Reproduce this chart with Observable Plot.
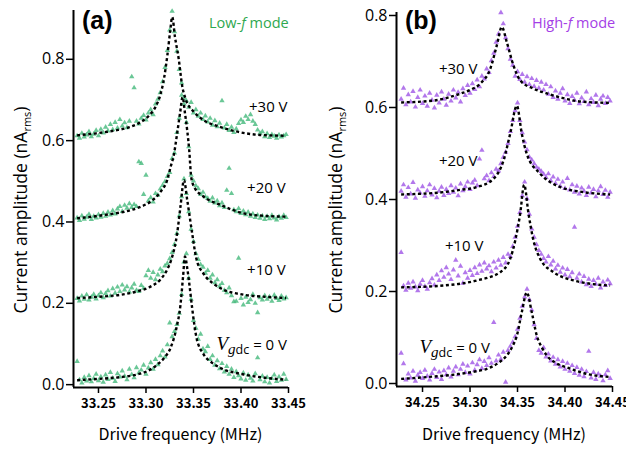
<!DOCTYPE html>
<html><head><meta charset="utf-8">
<script src="https://cdn.jsdelivr.net/npm/d3@7"></script>
<script src="https://cdn.jsdelivr.net/npm/@observablehq/plot@0.6"></script>
<style>
body{margin:0;background:#fff;}
#wrap{position:relative;width:626px;height:449px;overflow:hidden;background:#fff;}
#wrap svg{position:absolute;top:0;}
</style></head><body><div id="wrap"></div>
<script>
// ---------- data ----------
const yTicks = [0.0, 0.2, 0.4, 0.6, 0.8];
const xTicksA = [33.25, 33.30, 33.35, 33.40, 33.45];
const xTicksB = [34.25, 34.30, 34.35, 34.40, 34.45];

// drive-frequency sweep, panel (a) (MHz)
const freqA = [33.2275,33.2300,33.2325,33.2350,33.2375,33.2400,33.2425,33.2450,33.2475,33.2500,
33.2525,33.2550,33.2575,33.2600,33.2625,33.2650,33.2675,33.2700,33.2725,33.2750,
33.2775,33.2800,33.2825,33.2850,33.2875,33.2900,33.2925,33.2950,33.2975,33.3000,
33.3025,33.3050,33.3075,33.3100,33.3125,33.3150,33.3175,33.3200,33.3225,33.3250,
33.3275,33.3300,33.3325,33.3350,33.3375,33.3400,33.3425,33.3450,33.3475,33.3500,
33.3525,33.3550,33.3575,33.3600,33.3625,33.3650,33.3675,33.3700,33.3725,33.3750,
33.3775,33.3800,33.3825,33.3850,33.3875,33.3900,33.3925,33.3950,33.3975,33.4000,
33.4025,33.4050,33.4075,33.4100,33.4125,33.4150,33.4175,33.4200,33.4225,33.4250,
33.4275,33.4300,33.4325,33.4350,33.4375,33.4400,33.4425,33.4450,33.4475];

// drive-frequency sweep, panel (b) (MHz)
const freqB = [34.2275,34.2300,34.2325,34.2350,34.2375,34.2400,34.2425,34.2450,34.2475,34.2500,
34.2525,34.2550,34.2575,34.2600,34.2625,34.2650,34.2675,34.2700,34.2725,34.2750,
34.2775,34.2800,34.2825,34.2850,34.2875,34.2900,34.2925,34.2950,34.2975,34.3000,
34.3025,34.3050,34.3075,34.3100,34.3125,34.3150,34.3175,34.3200,34.3225,34.3250,
34.3275,34.3300,34.3325,34.3350,34.3375,34.3400,34.3425,34.3450,34.3475,34.3500,
34.3525,34.3550,34.3575,34.3600,34.3625,34.3650,34.3675,34.3700,34.3725,34.3750,
34.3775,34.3800,34.3825,34.3850,34.3875,34.3900,34.3925,34.3950,34.3975,34.4000,
34.4025,34.4050,34.4075,34.4100,34.4125,34.4150,34.4175,34.4200,34.4225,34.4250,
34.4275,34.4300,34.4325,34.4350,34.4375,34.4400,34.4425,34.4450,34.4475];

// measured amplitude (nA rms), low-f mode
const ampA30 = [0.612,0.606,0.618,0.609,0.614,0.622,0.610,0.616,0.625,0.612,
0.628,0.619,0.633,0.624,0.640,0.627,0.645,0.631,0.652,0.636,
0.644,0.632,0.648,0.757,0.730,0.648,0.641,0.655,0.662,0.651,
0.668,0.676,0.664,0.690,0.702,0.718,0.745,0.780,0.822,0.872,
0.918,0.868,0.820,0.775,0.742,0.705,0.698,0.682,0.694,0.668,
0.676,0.660,0.668,0.652,0.661,0.646,0.655,0.638,0.649,0.634,
0.643,0.698,0.631,0.640,0.625,0.633,0.620,0.629,0.642,0.651,
0.645,0.660,0.652,0.664,0.648,0.640,0.626,0.618,0.622,0.610,
0.617,0.608,0.615,0.611,0.606,0.614,0.609,0.612,0.615];
const ampA20 = [0.410,0.404,0.415,0.407,0.412,0.419,0.406,0.414,0.410,0.418,
0.412,0.421,0.414,0.424,0.417,0.428,0.420,0.432,0.438,0.426,
0.441,0.434,0.445,0.436,0.443,0.438,0.548,0.544,0.468,0.515,
0.452,0.460,0.449,0.470,0.466,0.481,0.490,0.499,0.512,0.522,
0.556,0.570,0.620,0.655,0.712,0.690,0.645,0.585,0.515,0.501,
0.489,0.482,0.468,0.473,0.462,0.458,0.451,0.459,0.447,0.452,
0.440,0.447,0.436,0.478,0.532,0.470,0.430,0.425,0.433,0.421,
0.427,0.418,0.424,0.414,0.420,0.411,0.417,0.409,0.415,0.406,
0.414,0.408,0.416,0.410,0.405,0.413,0.409,0.416,0.411];
const ampA10 = [0.212,0.206,0.218,0.210,0.221,0.208,0.215,0.222,0.211,0.219,
0.226,0.214,0.224,0.231,0.218,0.236,0.225,0.240,0.229,0.245,
0.233,0.241,0.228,0.238,0.247,0.232,0.229,0.244,0.237,0.268,
0.281,0.262,0.276,0.258,0.270,0.284,0.278,0.292,0.298,0.310,
0.325,0.345,0.372,0.415,0.462,0.506,0.470,0.425,0.382,0.352,
0.322,0.308,0.295,0.289,0.274,0.281,0.262,0.270,0.251,0.258,
0.242,0.249,0.232,0.226,0.238,0.219,0.204,0.205,0.311,0.212,
0.196,0.215,0.202,0.209,0.222,0.200,0.177,0.214,0.208,0.219,
0.210,0.216,0.205,0.220,0.212,0.207,0.218,0.211,0.214];
const ampA0 = [0.057,0.012,0.004,0.018,0.009,0.022,0.007,0.015,0.026,0.010,
0.019,0.006,0.024,0.013,0.030,0.016,0.008,0.027,0.019,0.034,
0.021,0.012,0.038,0.025,0.017,0.042,0.029,0.036,0.048,0.026,
0.041,0.054,0.038,0.062,0.049,0.071,0.083,0.068,0.098,0.152,
0.118,0.131,0.148,0.176,0.222,0.302,0.322,0.262,0.210,0.158,
0.139,0.112,0.124,0.088,0.081,0.094,0.062,0.071,0.048,0.059,
0.039,0.052,0.031,0.045,0.026,0.038,0.018,0.032,0.022,0.014,
0.029,0.011,0.024,0.016,0.009,0.027,0.066,0.012,0.021,0.007,
0.018,0.004,0.015,0.024,0.008,0.019,0.011,0.026,0.013];

// measured amplitude (nA rms), high-f mode
const ampB30 = [0.618,0.642,0.606,0.628,0.612,0.635,0.601,0.622,0.638,0.609,
0.625,0.603,0.631,0.616,0.599,0.627,0.610,0.634,0.618,0.605,
0.629,0.614,0.638,0.621,0.633,0.612,0.641,0.626,0.648,0.631,
0.652,0.639,0.660,0.645,0.668,0.662,0.684,0.676,0.702,0.718,
0.742,0.760,0.806,0.782,0.752,0.728,0.705,0.692,0.668,0.678,
0.661,0.672,0.655,0.667,0.650,0.663,0.646,0.659,0.642,0.655,
0.638,0.650,0.629,0.645,0.622,0.636,0.618,0.631,0.641,0.614,
0.628,0.609,0.624,0.616,0.631,0.608,0.621,0.613,0.634,0.606,
0.619,0.611,0.627,0.604,0.618,0.625,0.609,0.622,0.614];
const ampB20 = [0.418,0.432,0.405,0.426,0.412,0.437,0.403,0.421,0.414,0.428,
0.407,0.419,0.432,0.410,0.424,0.404,0.418,0.427,0.409,0.422,
0.413,0.430,0.416,0.425,0.408,0.434,0.419,0.428,0.438,0.422,
0.436,0.442,0.430,0.488,0.507,0.445,0.452,0.441,0.458,0.450,
0.466,0.462,0.478,0.492,0.503,0.522,0.548,0.572,0.593,0.610,
0.572,0.545,0.525,0.508,0.492,0.486,0.478,0.470,0.466,0.461,
0.455,0.448,0.456,0.441,0.449,0.435,0.444,0.429,0.438,0.424,
0.446,0.421,0.432,0.416,0.429,0.412,0.425,0.418,0.409,0.427,
0.414,0.422,0.406,0.419,0.428,0.411,0.420,0.405,0.416];
const ampB10 = [0.285,0.212,0.203,0.218,0.207,0.221,0.210,0.202,0.216,0.224,
0.211,0.205,0.219,0.228,0.214,0.236,0.224,0.245,0.231,0.252,
0.238,0.226,0.247,0.268,0.234,0.255,0.218,0.241,0.229,0.246,
0.235,0.252,0.239,0.258,0.244,0.262,0.249,0.256,0.243,0.264,
0.251,0.268,0.257,0.274,0.262,0.281,0.276,0.298,0.318,0.342,
0.372,0.408,0.438,0.402,0.368,0.336,0.318,0.302,0.289,0.281,
0.272,0.264,0.276,0.258,0.266,0.249,0.257,0.242,0.251,0.236,
0.248,0.232,0.241,0.340,0.229,0.238,0.221,0.233,0.215,0.227,
0.211,0.224,0.216,0.229,0.208,0.221,0.213,0.225,0.217];
const ampB0 = [0.066,0.043,0.008,0.021,0.012,0.027,0.005,0.018,0.024,0.011,
0.029,0.016,0.008,0.022,0.031,0.013,0.025,0.009,0.028,0.019,
0.034,0.014,0.027,0.036,0.019,0.031,0.042,0.024,0.038,0.021,
0.045,0.029,0.041,0.052,0.033,0.048,0.039,0.056,0.044,0.133,
0.049,0.062,0.053,0.068,0.003,0.072,0.081,0.090,0.102,0.118,
0.142,0.168,0.188,0.205,0.182,0.160,0.128,0.098,0.072,0.066,
0.078,0.058,0.064,0.049,0.057,0.042,0.052,0.036,0.048,0.031,
0.044,0.027,0.039,0.022,0.035,0.018,0.031,0.015,0.026,0.070,
0.012,0.024,0.009,0.021,0.016,0.006,0.019,0.028,0.011];

// fitted curves: [frequency, amplitude]
const fitA30 = [[33.2275,0.613],[33.2475,0.618],[33.2675,0.625],[33.2825,0.633],[33.2925,0.643],[33.3025,0.660],[33.3100,0.683],[33.3150,0.712],[33.3190,0.753],[33.3225,0.810],[33.3255,0.870],[33.3276,0.904],[33.3305,0.855],[33.3345,0.800],[33.3380,0.736],[33.3416,0.703],[33.3503,0.671],[33.3608,0.650],[33.3750,0.636],[33.3890,0.626],[33.4050,0.618],[33.4200,0.614],[33.4475,0.612]];
const fitA20 = [[33.2275,0.409],[33.2556,0.417],[33.2837,0.429],[33.2950,0.438],[33.3047,0.450],[33.3153,0.474],[33.3223,0.503],[33.3260,0.536],[33.3293,0.565],[33.3328,0.618],[33.3360,0.670],[33.3385,0.707],[33.3410,0.668],[33.3434,0.625],[33.3455,0.577],[33.3476,0.510],[33.3510,0.485],[33.3608,0.462],[33.3784,0.442],[33.4030,0.421],[33.4250,0.415],[33.4475,0.413]];
const fitA10 = [[33.2275,0.213],[33.2500,0.216],[33.2732,0.221],[33.2900,0.229],[33.3047,0.241],[33.3150,0.258],[33.3223,0.283],[33.3270,0.310],[33.3328,0.372],[33.3363,0.438],[33.3400,0.503],[33.3434,0.454],[33.3486,0.372],[33.3530,0.310],[33.3608,0.272],[33.3700,0.250],[33.3784,0.237],[33.4030,0.221],[33.4250,0.216],[33.4475,0.213]];
const fitA0 = [[33.2275,0.011],[33.2556,0.015],[33.2750,0.019],[33.2907,0.025],[33.3020,0.034],[33.3118,0.049],[33.3200,0.068],[33.3258,0.090],[33.3320,0.139],[33.3363,0.196],[33.3390,0.265],[33.3410,0.315],[33.3435,0.285],[33.3460,0.240],[33.3486,0.188],[33.3532,0.115],[33.3608,0.074],[33.3700,0.053],[33.3784,0.041],[33.4030,0.025],[33.4250,0.017],[33.4475,0.012]];
const fitB30 = [[34.2275,0.611],[34.2616,0.615],[34.2897,0.630],[34.3000,0.638],[34.3107,0.652],[34.3213,0.684],[34.3282,0.735],[34.3335,0.775],[34.3387,0.742],[34.3458,0.691],[34.3528,0.659],[34.3668,0.641],[34.3800,0.631],[34.3950,0.622],[34.4160,0.613],[34.4475,0.610]];
const fitB20 = [[34.2275,0.411],[34.2721,0.416],[34.2900,0.421],[34.3072,0.427],[34.3247,0.445],[34.3353,0.485],[34.3423,0.543],[34.3493,0.604],[34.3545,0.543],[34.3598,0.499],[34.3739,0.456],[34.3850,0.437],[34.3950,0.427],[34.4195,0.416],[34.4475,0.411]];
const fitB10 = [[34.2275,0.209],[34.2721,0.213],[34.2900,0.217],[34.3072,0.224],[34.3318,0.242],[34.3423,0.271],[34.3476,0.311],[34.3528,0.369],[34.3570,0.432],[34.3616,0.369],[34.3668,0.311],[34.3739,0.271],[34.3879,0.242],[34.4090,0.224],[34.4300,0.216],[34.4475,0.213]];
const fitB0 = [[34.2275,0.010],[34.2545,0.014],[34.2897,0.021],[34.3050,0.026],[34.3177,0.032],[34.3300,0.045],[34.3387,0.061],[34.3450,0.082],[34.3493,0.104],[34.3545,0.155],[34.3598,0.198],[34.3650,0.155],[34.3703,0.104],[34.3760,0.077],[34.3808,0.061],[34.3900,0.045],[34.4019,0.035],[34.4230,0.021],[34.4475,0.014]];

// ---------- drawing ----------
const GREEN = "#45b97c", PURPLE = "#9f55e6";
const GREEN_TXT = "#2ea84f", PURPLE_TXT = "#a43ee6";

function panel(cfg) {
  const pts = cfg.series.flatMap(s => cfg.freq.map((f, i) => ({f, v: s[i]})));
  const lines = cfg.fits.flatMap((fit, k) => fit.map(([f, v]) => ({f, v, k})));
  const svg = Plot.plot({
    width: cfg.width, height: 449,
    marginLeft: cfg.ml, marginRight: cfg.mr, marginTop: cfg.mt, marginBottom: cfg.mb,
    style: {fontFamily: "Open Sans", background: "transparent", overflow: "visible"},
    x: {domain: cfg.xDomain},
    y: {domain: cfg.yDomain},
    marks: [
      Plot.dot(pts, {x: "f", y: "v", symbol: "triangle", r: 2, fill: cfg.color, fillOpacity: 0.8}),
      Plot.line(lines, {x: "f", y: "v", z: "k", stroke: "black", strokeWidth: 2.4, strokeLinecap: "butt", strokeDasharray: "3,2.6", curve: "monotone-x"}),
      Plot.ruleX([cfg.xDomain[0]], {stroke: "black", strokeWidth: 2}),
      Plot.ruleY([cfg.yDomain[0]], {stroke: "black", strokeWidth: 2}),
      Plot.axisY({ticks: yTicks, tickSize: 7, tickPadding: 2, tickFormat: d3.format(".1f"), label: null, fontSize: 16, strokeWidth: 1.5}),
      Plot.axisX({ticks: cfg.xTicks, tickSize: 6, tickPadding: 5, tickFormat: d3.format(".2f"), label: null, fontSize: 13, fontWeight: "bold", fontFamily: "Noto Sans CJK JP", strokeWidth: 1.5}),
      Plot.text(cfg.labels, {x: "x", y: "y", text: "t", textAnchor: "end", fontSize: 15, fill: "black"})
    ]
  });
  svg.style.left = cfg.left + "px";
  const sx = svg.scale("x"), sy = svg.scale("y");
  const g = d3.select(svg);
  // y title
  const yt = g.append("text").attr("transform", `translate(${cfg.ytx},210) rotate(-90)`)
    .attr("text-anchor", "middle").attr("font-family", "Open Sans").attr("font-size", 17.5).attr("fill", "black");
  yt.append("tspan").text("Current amplitude (nA");
  yt.append("tspan").attr("font-size", 11).attr("dy", 4).text("rms");
  yt.append("tspan").attr("dy", -4).text(")");
  // x title
  g.append("text").attr("x", (cfg.ml + cfg.width - cfg.mr) / 2).attr("y", 440)
    .attr("text-anchor", "middle").attr("font-family", "Noto Sans CJK JP").attr("font-size", 16)
    .attr("fill", "black").text("Drive frequency (MHz)");
  // panel letter
  g.append("text").attr("x", cfg.letterX).attr("y", 29).attr("text-anchor", "start").attr("font-family", "Liberation Sans")
    .attr("font-weight", "bold").attr("font-size", 25).attr("fill", "black").text(cfg.letter);
  // mode label
  const ml = g.append("text").attr("x", cfg.modeX).attr("y", 28).attr("text-anchor", "start").attr("font-family", "Open Sans")
    .attr("font-size", 14.5).attr("fill", cfg.modeColor);
  ml.append("tspan").text(cfg.modeName + "-");
  ml.append("tspan").attr("font-style", "italic").text("f");
  ml.append("tspan").text(" mode");
  // V_gdc = 0 V
  const vt = g.append("text").attr("x", sx.apply(cfg.v0[0])).attr("y", sy.apply(cfg.v0[1]) + 6)
    .attr("text-anchor", "end").attr("fill", "black").attr("font-family", "Open Sans").attr("font-size", 15);
  vt.append("tspan").attr("font-family", "Liberation Serif").attr("font-style", "italic").attr("font-size", 19).text("V");
  vt.append("tspan").attr("font-family", "Liberation Serif").attr("font-style", "italic").attr("font-size", 15).attr("dy", 4).text("g");
  vt.append("tspan").attr("font-size", 12.5).text("dc");
  vt.append("tspan").attr("dy", -4).text(" = 0 V");
  return svg;
}

const wrap = document.getElementById("wrap");
wrap.appendChild(panel({
  left: 0, width: 310, ml: 73, mr: 22, mt: 10, mb: 62,
  freq: freqA, series: [ampA30, ampA20, ampA10, ampA0], fits: [fitA30, fitA20, fitA10, fitA0],
  color: GREEN, xDomain: [33.2237, 33.45], yDomain: [-0.007, 0.92], xTicks: xTicksA,
  labels: [{x: 33.449, y: 0.682, t: "+30 V"}, {x: 33.447, y: 0.483, t: "+20 V"}, {x: 33.447, y: 0.282, t: "+10 V"}],
  v0: [33.449, 0.098], ytx: 27, letter: "(a)", letterX: 82, modeX: 209, modeName: "Low", modeColor: GREEN_TXT
}));
wrap.appendChild(panel({
  left: 310, width: 316, ml: 86, mr: 14, mt: 12, mb: 63,
  freq: freqB, series: [ampB30, ampB20, ampB10, ampB0], fits: [fitB30, fitB20, fitB10, fitB0],
  color: PURPLE, xDomain: [34.2226, 34.45], yDomain: [-0.0065, 0.8065], xTicks: xTicksB,
  labels: [{x: 34.3079, y: 0.683, t: "+30 V"}, {x: 34.3079, y: 0.483, t: "+20 V"}, {x: 34.3142, y: 0.298, t: "+10 V"}],
  v0: [34.3216, 0.078], ytx: 32, letter: "(b)", letterX: 95, modeX: 222, modeName: "High", modeColor: PURPLE_TXT
}));
</script></body></html>
